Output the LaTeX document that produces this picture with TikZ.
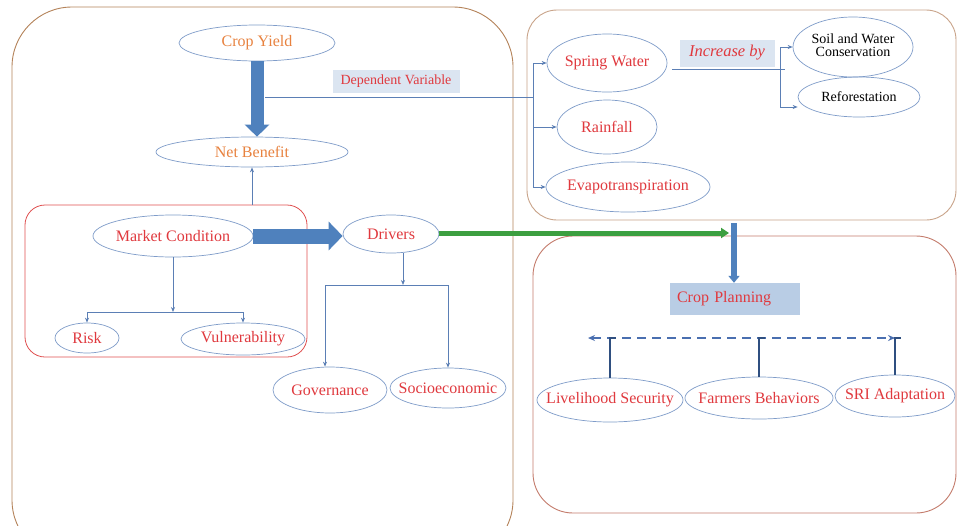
\documentclass[tikz,border=0pt]{standalone}
\usepackage{fontspec}
\setmainfont{Liberation Serif}
\usetikzlibrary{arrows.meta,shapes.geometric}
\definecolor{ellc}{HTML}{7F9CC9}
\definecolor{tred}{HTML}{E0393E}
\definecolor{torange}{HTML}{E8823F}
\definecolor{ablue}{HTML}{4F81BD}
\definecolor{cblue}{HTML}{5B7FB5}
\definecolor{dblue}{HTML}{4A6FB0}
\definecolor{vblue}{HTML}{2F4F80}
\definecolor{agreen}{HTML}{3C9F40}
\definecolor{lfill}{HTML}{DBE5F1}
\definecolor{cpfill}{HTML}{B9CDE5}
\definecolor{lbox}{HTML}{B5835A}
\definecolor{rtbox}{HTML}{C9A48A}
\definecolor{rbbox}{HTML}{C47C6C}
\definecolor{redbox}{HTML}{E05050}
\newcommand{\zw}[1]{\makebox[0pt]{#1}}
\tikzset{
  ell/.style={ellipse, draw=ellc, line width=0.7pt, inner sep=0pt, text=tred,
    font=\fontsize{16}{18}\selectfont},
  conn/.style={draw=cblue, line width=0.8pt, -{Stealth[length=5pt,width=4pt]}},
  plain/.style={draw=cblue, line width=0.8pt},
  bigarrow/.style={draw=ablue, line width=13pt, -{Triangle[length=12pt,width=24pt]}},
  frame/.style={line width=0.9pt, rounded corners=#1},
}
\begin{document}
\begin{tikzpicture}[x=1pt,y=-1pt]
\clip (0,0) rectangle (958,525);
\fill[white] (0,0) rectangle (958,525);

% frames
\draw[frame=60pt, draw=lbox] (12,7) rectangle (513,560);
\draw[frame=30pt, draw=rtbox] (527,10) rectangle (956,220);
\draw[frame=40pt, draw=rbbox] (533,236) rectangle (956,513);
\node (rb) [draw=redbox, line width=0.8pt, rounded corners=20pt, minimum width=282pt, minimum height=152pt, inner sep=0pt] at (166,281) {};

% ellipses
\node (cy) [ell, text=torange, minimum width=156pt, minimum height=36pt] at (257,43) {\zw{Crop Yield}};
\node (nb) [ell, text=torange, minimum width=192pt, minimum height=30pt] at (252,152) {\zw{Net Benefit}};
\node (mc) [ell, minimum width=160pt, minimum height=42pt] at (173,236) {\zw{Market Condition}};
\node (dr) [ell, minimum width=96pt, minimum height=38pt] at (391,234) {\zw{Drivers}};
\node (rk) [ell, minimum width=64pt, minimum height=30pt] at (87,338) {\zw{Risk}};
\node (vu) [ell, minimum width=124pt, minimum height=32pt] at (243,339) {\zw{Vulnerability}};
\node (gv) [ell, minimum width=114pt, minimum height=46pt] at (330,390) {\zw{Governance}};
\node (se) [ell, minimum width=116pt, minimum height=40pt] at (448,388) {\zw{Socioeconomic}};

\node (sw) [ell, minimum width=120pt, minimum height=58pt] at (607,63) {\zw{Spring Water}};
\node (rf) [ell, minimum width=100pt, minimum height=54pt] at (607,127) {\zw{Rainfall}};
\node (ev) [ell, minimum width=164pt, minimum height=50pt] at (628,187) {\zw{Evapotranspiration}};
\node (so) [ell, text=black, font=\fontsize{14}{15}\selectfont, minimum width=120pt, minimum height=60pt] at (853,47) {\zw{\begin{tabular}{@{}c@{}}Soil and Water\\[-2pt]Conservation\end{tabular}}};
\node (re) [ell, text=black, font=\fontsize{14}{16}\selectfont, minimum width=122pt, minimum height=40pt] at (859,97) {\zw{Reforestation}};

\node (ls) [ell, minimum width=146pt, minimum height=44pt] at (610,400) {\zw{Livelihood Security}};
\node (fb) [ell, minimum width=148pt, minimum height=42pt] at (759,398) {\zw{Farmers Behaviors}};
\node (sri) [ell, minimum width=120pt, minimum height=42pt] at (895,396) {\zw{SRI Adaptation}};

% label boxes
\node (dv) [fill=lfill, text=tred, font=\fontsize{14}{16}\selectfont, minimum width=127pt, minimum height=23pt, inner sep=0pt] at (396,81) {Dependent Variable};
\node (ib) [fill=lfill, text=tred, font=\fontsize{16.5}{18}\selectfont\itshape, minimum width=95pt, minimum height=27pt, inner sep=0pt] at (727,53) {Increase by};
\node (cp) [fill=cpfill, text=tred, font=\fontsize{16}{18}\selectfont, text width=116pt, inner xsep=7pt, inner ysep=0pt, align=left, minimum height=32pt] at (735,299) {Crop Planning};

% thick arrows
\draw[bigarrow] (cy.south) -- (cy.south |- nb.north);
\draw[draw=ablue, line width=15pt, -{Triangle[length=14pt,width=28pt]}] (mc.east) -- (mc.east -| dr.west);
\coordinate (gend) at (729,233);
\draw[draw=agreen, line width=5pt, -{Triangle[length=8pt,width=10pt]}] (dr.east |- gend) -- (gend);
\coordinate (cpv) at (734,223);
\draw[draw=ablue, line width=6pt, -{Triangle[length=7pt,width=11pt]}] (cpv) -- (cpv |- cp.north);

% dependent variable line and bracket
\coordinate (dva) at (265,97);
\coordinate (dvb) at (533,97);
\draw[plain] (dva) -- (dvb);
\draw[plain] (dvb |- sw.west) -- (dvb |- ev.west);
\draw[conn] (dvb |- sw.west) -- (sw.west);
\draw[conn] (dvb |- rf.west) -- (rf.west);
\draw[conn] (dvb |- ev.west) -- (ev.west);

% increase by line and bracket
\coordinate (iba) at (672,69);
\coordinate (ibb) at (785,69);
\coordinate (ibr) at (780,107);
\draw[plain] (iba) -- (ibb);
\draw[plain] (ibr |- so.west) -- (ibr);
\draw[conn] (ibr |- so.west) -- (so.west);
\draw[conn] (ibr) -- (re.west |- ibr);

% net benefit
\draw[conn] (nb.south |- rb.north) -- (nb.south);

% market condition branches
\coordinate (mcj) at (173,312);
\draw[conn] (mc.south) -- (mcj);
\draw[plain] (mcj -| rk.north) -- (mcj -| vu.north);
\draw[conn] (mcj -| rk.north) -- (rk.north);
\draw[conn] (mcj -| vu.north) -- (vu.north);

% drivers branches
\coordinate (drj) at (403,285);
\coordinate (gvj) at (325,285);
\coordinate (sej) at (448,285);
\draw[conn] (drj |- dr.south) -- (drj);
\draw[plain] (gvj) -- (sej);
\draw[conn] (gvj) -- (gvj |- gv.north);
\draw[conn] (sej) -- (sej |- se.north);

% crop planning outcomes
\coordinate (dL) at (588,338);
\coordinate (dR) at (895,338);
\draw[draw=dblue, line width=1.6pt, dash pattern=on 9pt off 6pt, {Stealth[length=7pt,width=6pt]}-{Stealth[length=7pt,width=6pt]}] (dL) -- (dR);
\draw[draw=vblue, line width=2pt] (ls.north) -- (ls.north |- dL) -- ++(6,0);
\draw[draw=vblue, line width=2pt] (fb.north) -- (fb.north |- dL) -- ++(6,0);
\draw[draw=vblue, line width=2pt] (sri.north) -- (sri.north |- dL) -- ++(6,0);
\end{tikzpicture}
\end{document}
